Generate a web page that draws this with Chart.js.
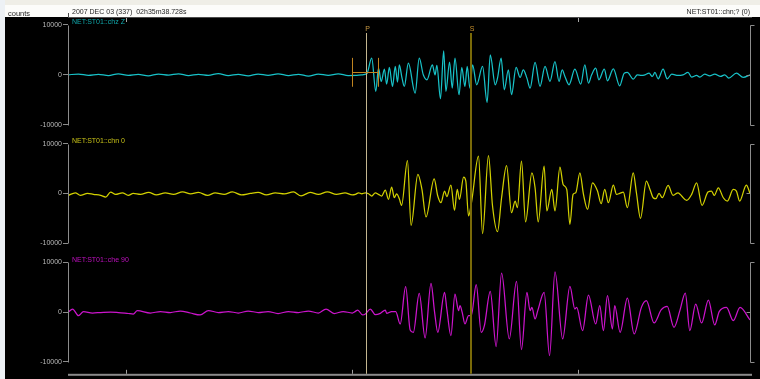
<!DOCTYPE html>
<html>
<head>
<meta charset="utf-8">
<script src="https://cdn.jsdelivr.net/npm/chart.js@4.4.1/dist/chart.umd.min.js"></script>
<style>
  html, body { margin: 0; padding: 0; background: #000; overflow: hidden; }
  canvas { display: block; }
</style>
</head>
<body>
<canvas id="seis" width="760" height="379"></canvas>
<script>
// Record window, seconds after 02h35m (2007-12-03)
const T_START = 38.728;
const T_END = 53.80;

// Time marks on the top and bottom time axes
const timeTicks = [40, 45, 50];
// Amplitude marks on every trace panel (counts)
const countTicks = [-10000, 0, 10000];

// Phase picks
const pickNames = ['P', 'S'];
const pickTimes = [45.31, 47.63];
// P-pick uncertainty bar on the vertical component: time span and counts (low, mid, high)
const pickBarTimes = [45.0, 45.58];
const pickBarCounts = [-2400, 600, 3400];

const headerTime = '2007 DEC 03 (337)  02h35m38.728s';
const headerChannel = 'NET:ST01::chn;? (0)';
const unitsLabel = 'counts';
const channelNames = ['NET:ST01::chz Z', 'NET:ST01::chn 0', 'NET:ST01::che 90'];

// Vertical component (Z)
const zTimes = [
  38.73, 38.96, 39.18, 39.40, 39.62, 39.84, 40.06, 40.28, 40.50, 40.73,
  40.95, 41.17, 41.39, 41.61, 41.83, 42.05, 42.27, 42.49, 42.71, 42.93,
  43.15, 43.37, 43.60, 43.82, 44.04, 44.26, 44.48, 44.70, 44.92,
  45.08, 45.22, 45.33, 45.44, 45.53, 45.59, 45.65, 45.72, 45.77, 45.83,
  45.90, 45.96, 46.01, 46.05, 46.11, 46.16, 46.25, 46.40, 46.49, 46.58,
  46.66, 46.78, 46.84, 46.88, 46.96, 47.03, 47.08, 47.16, 47.22, 47.28,
  47.37, 47.43, 47.50, 47.55, 47.61, 47.67, 47.76, 47.89, 47.99, 48.06,
  48.17, 48.22, 48.30, 48.37, 48.46, 48.53, 48.63, 48.72, 48.79, 48.87,
  48.94, 49.05, 49.16, 49.27, 49.38,
  49.49, 49.58, 49.65, 49.71, 49.80, 49.93, 50.06, 50.15, 50.23, 50.30,
  50.39, 50.46, 50.58, 50.65, 50.78, 50.92, 51.02, 51.09, 51.22, 51.31,
  51.40, 51.48, 51.57, 51.64, 51.70, 51.77, 51.88, 51.97, 52.07, 52.21,
  52.32, 52.43, 52.51, 52.62, 52.69, 52.80, 52.91, 53.02, 53.15, 53.24,
  53.33, 53.50, 53.65, 53.80
];
const zCounts = [
  0, 150, -100, 100, -150, 200, -100, 100, -200, 150,
  -50, 200, -150, 100, -100, 250, -150, 100, -200, 150,
  -100, 200, -150, 100, -250, 150, -100, 200, -150,
  -130, 0, 200, 3330, -3330, 1330, -1330, 1130, -1870, 1470,
  -2330, 1670, -1470, 2000, -670, -2330, 2330, -3670, 3330, 0,
  -1000, 2000, 0, 1870, -4800, 4800, -3330, 2530, -2670, 3330,
  -4000, 1470, -2330, 1670, -2670, 2000, -2000, 1670, -5530, 4000,
  -2000, -670, 3330, -3000, 1000, -4000, 1470, -530, 1000, -670,
  -2670, 2470, -2330, 1670, -1330,
  2670, -1330, 1000, -330, -2000, 1130, -1870, 2000, -1670, 0,
  1330, -1000, 1130, -1200, 1200, -2200, 330, 470, -870, 0,
  -130, 0, 330, -330, 470, -800, 1130, -800, 130, -130,
  0, 470, -470, -130, -470, 130, -200, 130, -330, 0,
  -670, 330, -530, 0
];

// North component (N)
const nTimes = [
  38.73, 38.89, 39.00, 39.16, 39.29, 39.45, 39.56, 39.67, 39.78, 39.93,
  40.06, 40.17, 40.33, 40.51, 40.68, 40.88, 41.06, 41.26, 41.44, 41.61,
  41.81, 41.98, 42.18, 42.36, 42.56, 42.76, 42.93, 43.11, 43.31, 43.51,
  43.71, 43.88, 44.08, 44.26, 44.46, 44.66, 44.85, 45.01,
  45.08, 45.15, 45.22, 45.30, 45.37, 45.44, 45.52, 45.59, 45.66, 45.74,
  45.81, 45.88, 45.94, 45.99, 46.05, 46.10, 46.23, 46.31, 46.46, 46.55,
  46.64, 46.82, 46.90, 46.97, 47.05, 47.10, 47.19, 47.27, 47.33, 47.38,
  47.47, 47.52, 47.58, 47.65, 47.80, 47.89, 48.02, 48.11, 48.22, 48.31,
  48.42, 48.53, 48.61, 48.66, 48.75, 48.84, 48.98, 49.05, 49.12, 49.25,
  49.31, 49.42,
  49.49, 49.60, 49.67, 49.75, 49.82, 49.89, 49.95, 50.04, 50.12, 50.21,
  50.32, 50.43, 50.51, 50.59, 50.67, 50.78, 50.85, 50.92, 51.00, 51.09,
  51.22, 51.29, 51.38, 51.51, 51.59, 51.66, 51.72, 51.79, 51.86, 51.99,
  52.10, 52.21, 52.29, 52.40, 52.51, 52.62, 52.74, 52.87, 52.95, 53.01,
  53.10, 53.21, 53.30, 53.43, 53.50, 53.57, 53.72, 53.80
];
const nCounts = [
  -400, 130, -400, 0, -200, -400, -730, 270, -200, 130,
  -400, 0, -200, 200, -300, 100, -200, 300, -100, 200,
  -400, 100, -200, 300, -300, 0, 200, -300, 100, -100,
  300, -500, 200, -200, 300, -200, 100, -300,
  -200, 130, -70, 130, -70, -530, 130, -200, -530, 670,
  -1200, 1270, -870, -70, -1070, -2400, 6600, -6400, 3800, 800,
  -4730, 2930, -530, -1870, 470, -670, 1670, -3400, 800, -1200,
  3270, 2470, -4530, -1530, 7470, -8070, 7600, -2530, -7670, -870,
  5600, -3870, -1530, -2870, 6470, -5730, 4130, 1130, -5730, 5470,
  -3530, 800,
  -3530, 5270, 1800, 800, -6200, -200, 130, 4130, -200, -3200,
  2130, 470, -2070, 800, -1870, 1670, -200, 0, 270, -2870,
  4130, 130, -5000, 2470, 800, -870, -1070, 0, -870, 1600,
  -400, 130, -530, -1400, -200, 2130, -2400, 270, 470, -400,
  1130, -870, -1530, 800, 470, -1530, 1670, 0
];

// East component (E)
const eTimes = [
  38.73, 38.83, 38.96, 39.07, 39.27, 39.45, 39.67, 39.84, 40.06, 40.17,
  40.26, 40.55, 40.77, 40.99, 41.21, 41.43, 41.65, 41.83, 42.05, 42.27,
  42.49, 42.71, 42.93, 43.15, 43.37, 43.60, 43.82, 44.04, 44.26, 44.43,
  44.61, 44.81, 45.01,
  45.08, 45.13, 45.24, 45.30, 45.41, 45.52, 45.63, 45.74, 45.77, 45.88,
  45.97, 46.07, 46.19, 46.29, 46.36, 46.49, 46.62, 46.75, 46.83, 46.90,
  47.05, 47.10, 47.19, 47.28, 47.36, 47.39, 47.44, 47.50, 47.58, 47.64,
  47.75, 47.86, 47.93, 48.06, 48.19, 48.31, 48.48, 48.64, 48.75, 48.87,
  48.94, 48.98, 49.05, 49.11, 49.25, 49.37, 49.49, 49.66, 49.82, 49.93,
  49.97, 50.10, 50.23, 50.39, 50.48, 50.56, 50.65, 50.76, 50.81, 50.93,
  51.09, 51.24, 51.40, 51.51, 51.68, 51.84, 51.97, 52.12, 52.25, 52.37,
  52.47, 52.60, 52.73, 52.88, 53.02, 53.12, 53.28, 53.43, 53.58, 53.80
];
const eCounts = [
  -70, 600, -730, 70, -200, -100, 0, -100, -300, -400,
  270, -200, 100, -100, 200, -200, -600, 300, -100, 100,
  -200, 200, -100, 100, -300, 100, -100, 200, -200, 600,
  -300, 100, -200,
  130, 400, -600, -400, 600, -530, -270, 400, -270, 70,
  70, -2400, 5070, -3600, -4070, 3730, -5200, 5730, -70, -4070,
  3930, 600, -4730, 3600, 270, 1270, -70, -2400, -730, -730,
  5470, -4070, -2730, 4130, -6930, 7800, -5400, 6130, -7530, 3930,
  270, 930, -1400, 270, 3930, -8730, 8070, -5400, 5130, 600,
  930, -3730, 3400, -2400, 1270, -3730, 3270, -3400, 1270, -4070,
  2800, -4400, 930, 2270, -2200, 470, 1130, -3070, 270, 3800,
  -3730, 1600, -2200, 2400, -2600, 70, 930, -1730, 930, -1600
];

const FONT = '"Liberation Sans", Arial, sans-serif';
const traceColors = ['#18c2c8', '#d2d000', '#cc14cc'];
const labelColors = ['#10a8ac', '#c8c218', '#c010c0'];
const axisGray = '#8c8c8c';

const toPoints = (ts, cs) => ts.map((t, i) => ({ x: t, y: cs[i] }));

// One amplitude axis per trace, stacked top to bottom in one column
function countAxis(order, share, lo, hi) {
  return {
    type: 'linear',
    position: 'left',
    stack: 'traces',
    stackWeight: share,
    weight: order,
    min: lo,
    max: hi,
    afterBuildTicks: s => { s.ticks = countTicks.map(v => ({ value: v })); },
    afterFit: s => { s.width = 63; },
    border: { display: false },
    grid: { display: true, drawOnChartArea: false, drawTicks: true, tickLength: 5, color: axisGray, tickColor: axisGray, lineWidth: 1 },
    ticks: { autoSkip: false, padding: 1, color: '#b8b8b8', font: { family: FONT, size: 7 }, callback: v => String(v) }
  };
}

const seisChrome = {
  id: 'seisChrome',
  beforeDraw(chart) {
    const { ctx, width, height, chartArea } = chart;
    ctx.save();
    ctx.fillStyle = '#000';
    ctx.fillRect(0, 0, width, height);
    ctx.fillStyle = '#fcfcfa';
    ctx.fillRect(0, 0, width, chartArea.top);
    ctx.fillStyle = '#efeee7';
    ctx.fillRect(0, 0, width, 5);
    ctx.fillStyle = '#edf1f5';
    ctx.fillRect(0, 0, 5, height);
    ctx.restore();
  },
  afterDatasetsDraw(chart) {
    const { ctx, chartArea: a, scales } = chart;
    const xs = scales.x;
    const panels = [scales.yZ, scales.yN, scales.yE];
    ctx.save();

    // Header line and its time ticks
    ctx.strokeStyle = '#4a4a4a';
    ctx.lineWidth = 1;
    ctx.beginPath();
    ctx.moveTo(a.left, a.top + 0.5);
    ctx.lineTo(a.right + 2, a.top + 0.5);
    ctx.moveTo(a.left + 0.5, a.top - 4);
    ctx.lineTo(a.left + 0.5, a.top);
    ctx.stroke();
    ctx.strokeStyle = '#a8a8a8';
    ctx.beginPath();
    [timeTicks[0], timeTicks[timeTicks.length - 1]].forEach(t => {
      const x = Math.round(xs.getPixelForValue(t)) + 0.5;
      ctx.moveTo(x, a.top + 1);
      ctx.lineTo(x, a.top + 5);
    });
    ctx.stroke();

    // Brackets on both sides of every panel
    ctx.strokeStyle = axisGray;
    panels.forEach(s => {
      const yHi = Math.round(s.getPixelForValue(countTicks[2])) + 0.5;
      const yMid = Math.round(s.getPixelForValue(countTicks[1])) + 0.5;
      const yLo = Math.round(s.getPixelForValue(countTicks[0])) + 0.5;
      const xl = a.left + 0.5, xr = a.right + 0.5;
      ctx.beginPath();
      ctx.moveTo(xl, yHi); ctx.lineTo(xl, yLo);
      ctx.moveTo(xr + 4, yHi); ctx.lineTo(xr, yHi); ctx.lineTo(xr, yLo); ctx.lineTo(xr + 4, yLo);
      ctx.moveTo(xr - 4, yMid); ctx.lineTo(xr, yMid);
      ctx.stroke();
    });

    // Bottom time axis
    ctx.fillStyle = '#8a8a8a';
    ctx.fillRect(a.left, a.bottom, a.right - a.left + 2, 2);
    ctx.strokeStyle = '#a0a0a0';
    ctx.beginPath();
    timeTicks.forEach(t => {
      const x = Math.round(xs.getPixelForValue(t)) + 0.5;
      ctx.moveTo(x, a.bottom);
      ctx.lineTo(x, a.bottom - 4);
    });
    ctx.stroke();

    // Phase pick lines and names
    const pickStyles = [{ color: '#c4b690', w: 1, text: '#c89a44' }, { color: '#7a6a08', w: 2, text: '#c8902c' }];
    pickTimes.forEach((t, i) => {
      const st = pickStyles[i];
      const x = Math.round(xs.getPixelForValue(t)) + (st.w % 2 ? 0.5 : 0);
      ctx.strokeStyle = st.color;
      ctx.lineWidth = st.w;
      ctx.beginPath();
      ctx.moveTo(x, a.top + 16);
      ctx.lineTo(x, a.bottom);
      ctx.stroke();
      ctx.fillStyle = st.text;
      ctx.font = '7px ' + FONT;
      ctx.textAlign = 'center';
      ctx.textBaseline = 'alphabetic';
      ctx.fillText(pickNames[i], x + 1, a.top + 13.5);
    });

    // P uncertainty bar on the Z trace
    const yZ = scales.yZ;
    const bx0 = Math.round(xs.getPixelForValue(pickBarTimes[0])) + 0.5;
    const bx1 = Math.round(xs.getPixelForValue(pickBarTimes[1])) + 0.5;
    const byLo = yZ.getPixelForValue(pickBarCounts[0]);
    const byMid = Math.round(yZ.getPixelForValue(pickBarCounts[1])) + 0.5;
    const byHi = yZ.getPixelForValue(pickBarCounts[2]);
    ctx.strokeStyle = '#c08420';
    ctx.lineWidth = 1;
    ctx.beginPath();
    ctx.moveTo(bx0, byHi); ctx.lineTo(bx0, byLo);
    ctx.moveTo(bx1, byHi); ctx.lineTo(bx1, byLo);
    ctx.moveTo(bx0, byMid); ctx.lineTo(bx1, byMid);
    ctx.stroke();

    // Channel names above each panel
    ctx.font = '7px ' + FONT;
    ctx.textAlign = 'left';
    ctx.textBaseline = 'alphabetic';
    panels.forEach((s, i) => {
      ctx.fillStyle = labelColors[i];
      ctx.fillText(channelNames[i], a.left + 4, s.getPixelForValue(countTicks[2]) - 0.5);
    });

    // Header texts
    ctx.fillStyle = '#262626';
    ctx.font = '7.5px ' + FONT;
    ctx.fillText(unitsLabel, 8, 15.5);
    ctx.font = '7px ' + FONT;
    ctx.fillText(headerTime, a.left + 4, 14);
    ctx.textAlign = 'right';
    ctx.fillText(headerChannel, a.right, 14);
    ctx.restore();
  }
};

const traceStyle = { borderWidth: 1.25, pointRadius: 0, cubicInterpolationMode: 'monotone', fill: false };

new Chart(document.getElementById('seis'), {
  type: 'line',
  data: {
    datasets: [
      { ...traceStyle, label: channelNames[0], data: toPoints(zTimes, zCounts), yAxisID: 'yZ', borderColor: traceColors[0] },
      { ...traceStyle, label: channelNames[1], data: toPoints(nTimes, nCounts), yAxisID: 'yN', borderColor: traceColors[1] },
      { ...traceStyle, label: channelNames[2], data: toPoints(eTimes, eCounts), yAxisID: 'yE', borderColor: traceColors[2] }
    ]
  },
  options: {
    responsive: false,
    animation: false,
    devicePixelRatio: 1,
    events: [],
    layout: { padding: { left: 5, right: 10, top: 17, bottom: 4 } },
    plugins: { legend: { display: false }, tooltip: { enabled: false } },
    scales: {
      x: { type: 'linear', display: false, min: T_START, max: T_END },
      yZ: countAxis(3, 118, -12000, 11600),
      yN: countAxis(2, 119, -12000, 11800),
      yE: countAxis(1, 121, -12400, 11800)
    }
  },
  plugins: [seisChrome]
});
</script>
</body>
</html>
